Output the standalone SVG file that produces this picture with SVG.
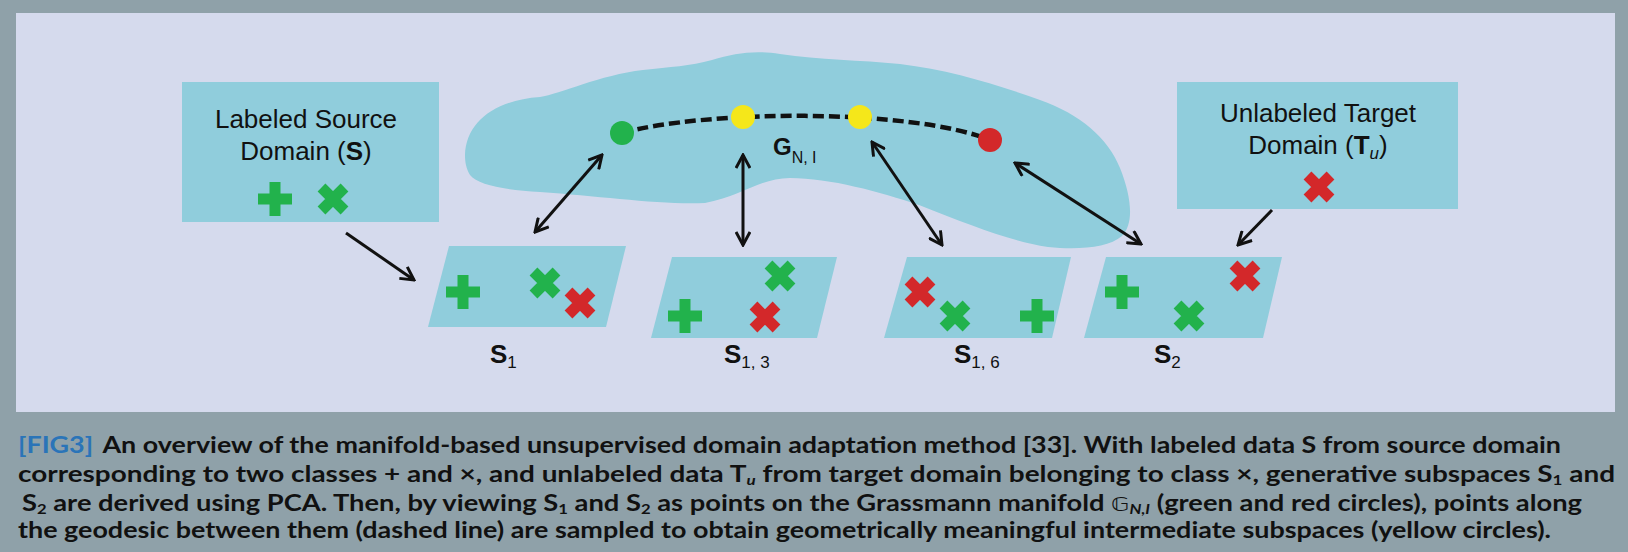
<svg xmlns="http://www.w3.org/2000/svg" xmlns:xlink="http://www.w3.org/1999/xlink" width="1628" height="552" viewBox="0 0 1628 552">
<style>
.cy{fill:#90cddc}
.lbl{font-family:"Liberation Sans",Arial,sans-serif;font-size:26px;fill:#111}
.b{font-weight:bold}
.it{font-style:italic}
.sub{font-size:17px;font-weight:normal}
.cap{font-family:Lato,"Open Sans",sans-serif;font-weight:700;font-size:23px;fill:#111}
.csub{font-size:14px}
.arrow{stroke:#111;stroke-width:3;fill:none}
.gf{fill:#22b24c}
.gs{stroke:#22b24c}
.rs{stroke:#d3282a}
</style>
<defs>
<marker id="ah" viewBox="0 0 16 16" refX="14" refY="8" markerWidth="16" markerHeight="16" markerUnits="userSpaceOnUse" orient="auto-start-reverse">
<path d="M1,1 L14,8 L1,15" fill="none" stroke="#111" stroke-width="3"/>
</marker>
<g id="plus"><rect x="-5.5" y="-17" width="11" height="34"/><rect x="-17" y="-5.5" width="34" height="11"/></g>
<path id="cross" d="M-11.5,-11.5 L11.5,11.5 M11.5,-11.5 L-11.5,11.5" stroke-width="11" fill="none"/>
</defs>

<rect x="0" y="0" width="1628" height="552" fill="#8fa1a9"/>
<rect id="panel" x="16" y="13" width="1599" height="399" fill="#d5daed"/>

<g id="manifold">
<path class="cy" d="M465,155 C466,122 495,100 540,97 C560,94 600,75 643,70 C670,67 690,66 712,60 C735,53 755,50 780,54 C820,60 860,60 900,64 C950,70 995,84 1040,100 C1080,114 1108,138 1120,168 C1132,198 1134,224 1122,236 C1108,248 1078,250 1048,247 C1010,241 970,225 919,205 C880,192 830,178 790,178 C760,178 740,197 705,203 C660,205 600,196 540,192 C505,190 478,185 470,175 C466,168 465,162 465,155 Z"/>
<path d="M622,133 C705,110 910,108 990,140" fill="none" stroke="#111" stroke-width="4.5" stroke-dasharray="11,5"/>
<text class="lbl b" x="773" y="155" style="font-size:24px">G<tspan class="sub" dy="8" style="font-size:16px">N, I</tspan></text>
</g>

<g id="point-S1"><circle cx="622" cy="133" r="12" fill="#22b24c"/></g>
<g id="point-S13"><circle cx="743" cy="117" r="12" fill="#f5e71a"/></g>
<g id="point-S16"><circle cx="860" cy="117" r="12" fill="#f5e71a"/></g>
<g id="point-S2"><circle cx="990" cy="140" r="12" fill="#d3282a"/></g>

<g id="source-domain">
<rect class="cy" x="182" y="82" width="257" height="140"/>
<text class="lbl" x="306" y="128" text-anchor="middle">Labeled Source</text>
<text class="lbl" x="306" y="160" text-anchor="middle">Domain (<tspan class="b">S</tspan>)</text>
<use href="#plus" class="gf" x="275" y="199"/>
<use href="#cross" class="gs" x="333" y="199"/>
</g>

<g id="target-domain">
<rect class="cy" x="1177" y="82" width="281" height="127"/>
<text class="lbl" x="1318" y="122" text-anchor="middle">Unlabeled Target</text>
<text class="lbl" x="1318" y="154" text-anchor="middle">Domain (<tspan class="b">T</tspan><tspan class="sub it" dy="5">u</tspan><tspan dy="-5">)</tspan></text>
<use href="#cross" class="rs" x="1319" y="187"/>
</g>

<g id="subspace-S1">
<polygon class="cy" points="449,246 626,246 606,327 428,327"/>
<use href="#plus" class="gf" x="463" y="292"/>
<use href="#cross" class="gs" x="545" y="283"/>
<use href="#cross" class="rs" x="580" y="303"/>
<text class="lbl" x="490" y="363"><tspan class="b">S</tspan><tspan class="sub" dy="5">1</tspan></text>
</g>

<g id="subspace-S13">
<polygon class="cy" points="672,257 837,257 817,338 651,338"/>
<use href="#plus" class="gf" x="685" y="316"/>
<use href="#cross" class="gs" x="780" y="276"/>
<use href="#cross" class="rs" x="765" y="317"/>
<text class="lbl" x="724" y="363"><tspan class="b">S</tspan><tspan class="sub" dy="5">1, 3</tspan></text>
</g>

<g id="subspace-S16">
<polygon class="cy" points="907,257 1071,257 1052,338 884,338"/>
<use href="#cross" class="rs" x="920" y="292"/>
<use href="#cross" class="gs" x="955" y="316"/>
<use href="#plus" class="gf" x="1037" y="316"/>
<text class="lbl" x="954" y="363"><tspan class="b">S</tspan><tspan class="sub" dy="5">1, 6</tspan></text>
</g>

<g id="subspace-S2">
<polygon class="cy" points="1106,257 1282,257 1263,338 1084,338"/>
<use href="#plus" class="gf" x="1122" y="292"/>
<use href="#cross" class="gs" x="1189" y="316"/>
<use href="#cross" class="rs" x="1245" y="276"/>
<text class="lbl" x="1154" y="363"><tspan class="b">S</tspan><tspan class="sub" dy="5">2</tspan></text>
</g>

<g id="connectors">
<path class="arrow" d="M346,233 L414,280" marker-end="url(#ah)"/>
<path class="arrow" d="M535,232 L602,155" marker-start="url(#ah)" marker-end="url(#ah)"/>
<path class="arrow" d="M743,245 L743,155" marker-start="url(#ah)" marker-end="url(#ah)"/>
<path class="arrow" d="M942,245 L872,142" marker-start="url(#ah)" marker-end="url(#ah)"/>
<path class="arrow" d="M1141,244 L1015,163" marker-start="url(#ah)" marker-end="url(#ah)"/>
<path class="arrow" d="M1272,210 L1238,245" marker-end="url(#ah)"/>
</g>

<g id="caption">
<text class="cap" x="18" y="453" textLength="1543" lengthAdjust="spacingAndGlyphs"><tspan fill="#2a74b8">[FIG3]</tspan><tspan dx="8">An overview of the manifold-based unsupervised domain adaptation method [33]. With labeled data S from source domain</tspan></text>
<text class="cap" x="18" y="482" textLength="1597" lengthAdjust="spacingAndGlyphs">corresponding to two classes + and ×, and unlabeled data T<tspan class="csub it" dy="2.5">u</tspan><tspan dy="-2.5"> from target domain belonging to class ×, generative subspaces S</tspan><tspan class="csub" dy="2.5">1</tspan><tspan dy="-2.5"> and</tspan></text>
<text class="cap" x="22" y="511" textLength="1560" lengthAdjust="spacingAndGlyphs">S<tspan class="csub" dy="2.5">2</tspan><tspan dy="-2.5"> are derived using PCA. Then, by viewing S</tspan><tspan class="csub" dy="2.5">1</tspan><tspan dy="-2.5"> and S</tspan><tspan class="csub" dy="2.5">2</tspan><tspan dy="-2.5"> as points on the Grassmann manifold </tspan><tspan style="font-family:'DejaVu Sans',sans-serif;font-weight:normal;font-size:20px">𝔾</tspan><tspan class="csub it" dy="2.5">N,I</tspan><tspan dy="-2.5"> (green and red circles), points along</tspan></text>
<text class="cap" x="18" y="538" textLength="1533" lengthAdjust="spacingAndGlyphs">the geodesic between them (dashed line) are sampled to obtain geometrically meaningful intermediate subspaces (yellow circles).</text>
</g>
</svg>
